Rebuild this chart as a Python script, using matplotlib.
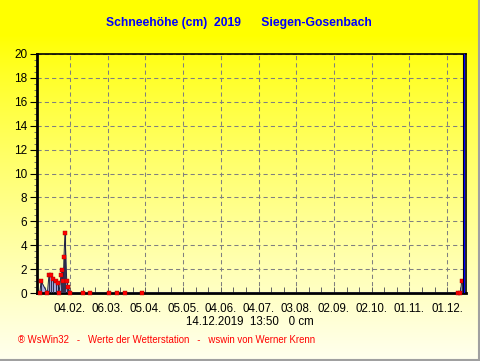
"""
Schneehöhe 2019, Siegen-Gosenbach (WsWin style chart).
"""

import numpy as np
import matplotlib
matplotlib.use('Agg')
import matplotlib.pyplot as plt
from matplotlib.ticker import FixedLocator, MultipleLocator

plt.rcParams['font.family'] = ['Liberation Sans', 'DejaVu Sans']

# Snow depth readings: day of year (fractional) and depth in cm
DAYS = [11, 12, 17, 18.3, 20, 21.5, 24, 25.6, 26.3, 27.8, 28.9, 29.7, 30.2, 31,
        32.4, 33.4, 35, 45, 51, 66, 72, 79, 92, 344, 345.5, 346.6]
DEPTH = [0, 1.0, 0, 1.5, 1.5, 1.2, 1.0, 0.8, 0, 1.5, 1.9, 1.0, 3.0, 5.0,
         1.0, 0.5, 0, 0, 0, 0, 0, 0, 0, 0, 0, 1.0]

TICK_DAYS = [35, 65, 95, 125, 155, 185, 215, 245, 275, 305, 335]
TICK_LABELS = ['04.02.', '06.03.', '05.04.', '05.05.', '04.06.', '04.07.',
               '03.08.', '02.09.', '02.10.', '01.11.', '01.12.']
NOW_DAY = 348.6

W, H = 481, 361
fig = plt.figure(figsize=(W / 100, H / 100), dpi=100)

# background gradient: yellow at the top, pale cream at the bottom
bg = fig.add_axes([0, 0, 1, 1], zorder=-10)
rows = np.arange(H)[:, None].astype(float)
blue = np.clip((rows - 35) / (H - 35), 0, 1) ** 0.85 * 0.94
grad = np.dstack([np.ones_like(blue), np.ones_like(blue), blue])
bg.imshow(grad, aspect='auto', extent=[0, 1, 0, 1], origin='upper')
bg.set_xlim(0, 1)
bg.set_ylim(0, 1)
bg.axis('off')
bg.axvline(1 - 1.5 / W, color='#a0a0a0', lw=1.5)
bg.axhline(1.5 / H, color='#a0a0a0', lw=1.5)

ax = fig.add_axes([37 / W, 1 - 293 / H, (466 - 37) / W, (293 - 54) / H])
ax.patch.set_alpha(0)

x = np.array(DAYS)
y = np.array(DEPTH)
ax.fill_between(x, 0, y, color='#aab2e8', lw=0, zorder=2)
ax.vlines(x, 0, y, color='#303050', lw=0.8, zorder=3)
ax.plot(x, y, color='#202040', lw=0.7, zorder=3)
ax.scatter(x, y, s=8, marker='s', color='#ff0000', edgecolors='#a00000',
           linewidths=0.3, zorder=4, clip_on=False)

ax.axvline(NOW_DAY - 1.3, color='black', lw=0.8, zorder=5)
ax.axvline(NOW_DAY, color='#0000ff', lw=0.9, zorder=5)

ax.set_xlim(8.75, 350.0)
ax.set_ylim(0, 20)

ax.set_xticks(TICK_DAYS)
ax.set_xticklabels(TICK_LABELS)
ax.xaxis.set_minor_locator(FixedLocator(np.arange(15, 350, 10)))
ax.set_yticks(np.arange(0, 21, 2))
ax.yaxis.set_minor_locator(MultipleLocator(0.5))

ax.tick_params(axis='x', which='both', direction='in', length=4, width=0.7,
               pad=7, labelsize=8.3, colors='#606060', labelcolor='black')
ax.tick_params(axis='y', which='major', direction='out', length=5, width=0.8,
               labelsize=8.5, pad=2)
ax.tick_params(axis='y', which='minor', direction='out', length=2, width=0.6,
               color='#606060')

ax.grid(True, which='major', color='#808080', linestyle=(0, (4, 3)), lw=0.75)

for side in ['left', 'bottom']:
    ax.spines[side].set_linewidth(2)
for side in ['top', 'right']:
    ax.spines[side].set_linewidth(1.2)

fig.text(239 / W, 1 - 23 / H, 'Schneehöhe (cm)  2019      Siegen-Gosenbach',
         color='#0000ff', fontsize=8.7, fontweight='bold', ha='center', va='center')
fig.text(250 / W, 1 - 322 / H, '14.12.2019  13:50   0 cm',
         color='black', fontsize=8.3, ha='center', va='center')
fig.text(18 / W, 1 - 340 / H,
         '® WsWin32   -   Werte der Wetterstation   -   wswin von Werner Krenn',
         color='#ff0000', fontsize=6.9, ha='left', va='center')

fig.savefig('out.png', dpi=100)
